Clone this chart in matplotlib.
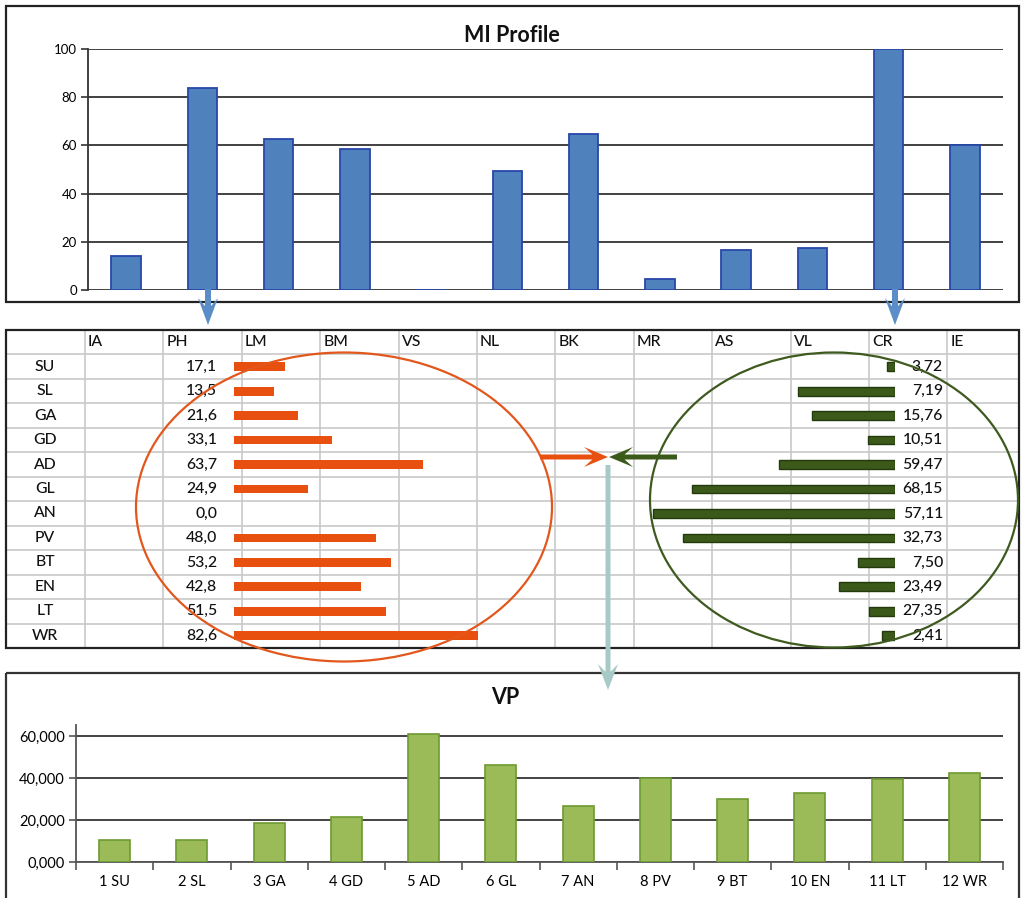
import matplotlib
matplotlib.use('Agg')
import matplotlib.pyplot as plt
import numpy as np
from matplotlib import font_manager as fm
from matplotlib.patches import Rectangle, Ellipse, FancyArrow
from matplotlib.ticker import FuncFormatter

# ---------------- data ----------------
mi_categories = ['IA', 'PH', 'LM', 'BM', 'VS', 'NL', 'BK', 'MR', 'AS', 'VL', 'CR', 'IE']
mi_values = [14.1, 84.0, 62.5, 58.5, 0.0, 49.5, 64.6, 4.4, 16.6, 17.3, 100.0, 60.0]

row_labels = ['SU', 'SL', 'GA', 'GD', 'AD', 'GL', 'AN', 'PV', 'BT', 'EN', 'LT', 'WR']
ph_values = [17.1, 13.5, 21.6, 33.1, 63.7, 24.9, 0.0, 48.0, 53.2, 42.8, 51.5, 82.6]
cr_bar_values = [2.8, 32.7, 28.1, 9.0, 39.1, 68.5, 81.7, 71.5, 12.6, 18.9, 8.7, 4.3]
cr_labels = ['3,72', '7,19', '15,76', '10,51', '59,47', '68,15',
             '57,11', '32,73', '7,50', '23,49', '27,35', '2,41']

vp_categories = ['1 SU', '2 SL', '3 GA', '4 GD', '5 AD', '6 GL',
                 '7 AN', '8 PV', '9 BT', '10 EN', '11 LT', '12 WR']
vp_values = [10500, 10500, 18500, 21300, 61000, 46300,
             26700, 40000, 30000, 33100, 39600, 42300]

# ---------------- fonts ----------------
names = {f.name for f in fm.fontManager.ttflist}
main_font = 'Lato' if 'Lato' in names else 'DejaVu Sans'
plt.rcParams['font.family'] = [main_font, 'DejaVu Sans']

W, H = 1021, 898
fig = plt.figure(figsize=(W / 100, H / 100), dpi=100)
fig.patch.set_facecolor('white')


def px_axes(x0, y0, x1, y1, **kw):
    return fig.add_axes([x0 / W, 1 - y1 / H, (x1 - x0) / W, (y1 - y0) / H], **kw)


# ---------------- top: MI Profile ----------------
ax1 = px_axes(88, 49, 1003, 290)
x = np.arange(len(mi_categories))
ax1.bar(x, mi_values, width=0.39, color='#4F81BD', edgecolor='#2747A8', linewidth=1.3, zorder=3)
ax1.set_xlim(-0.5, len(mi_categories) - 0.5)
ax1.set_ylim(0, 100)
ax1.set_yticks(range(0, 101, 20))
ax1.set_xticks([])
ax1.set_axisbelow(True)
ax1.yaxis.grid(True, color='#333333', linewidth=1.3)
for s in ['top', 'right', 'bottom']:
    ax1.spines[s].set_visible(False)
ax1.spines['left'].set_color('#333333')
ax1.spines['left'].set_linewidth(1.3)
ax1.tick_params(axis='y', length=5, width=1.2, color='#333333', labelsize=9.5, pad=3)
fig.text(512 / W, 1 - 35 / H, 'MI Profile', ha='center', va='center',
         fontsize=15.5, fontweight='bold', color='#111111')

# ---------------- middle: table ----------------
T_TOP, T_BOT, T_L, T_R = 330, 648, 6, 1019
n_rows = len(row_labels) + 1
row_h = (T_BOT - T_TOP) / n_rows
col_w = 78.4
col_edges = [85 + col_w * i for i in range(len(mi_categories))]

axt = px_axes(T_L, T_TOP, T_R, T_BOT)
axt.set_xlim(T_L, T_R)
axt.set_ylim(T_BOT, T_TOP)
axt.axis('off')
for ce in col_edges:
    axt.plot([ce, ce], [T_TOP, T_BOT], color='#C8C8C8', lw=1.2, zorder=1)
for j in range(1, n_rows):
    yy = T_TOP + row_h * j
    axt.plot([T_L, T_R], [yy, yy], color='#C8C8C8', lw=1.2, zorder=1)

tkw = dict(fontsize=11.3, fontweight='medium', color='#111111')
for i, c in enumerate(mi_categories):
    axt.text(col_edges[i] + 3, T_TOP + row_h * 0.5, c, ha='left', va='center', **tkw)
for j, lab in enumerate(row_labels):
    yc = T_TOP + row_h * (j + 1.5)
    axt.text(45, yc, lab, ha='center', va='center', **tkw)
    axt.text(217, yc, f'{ph_values[j]:.1f}'.replace('.', ','), ha='right', va='center', **tkw)
    axt.text(943, yc, cr_labels[j], ha='right', va='center', **tkw)

PX_PER_UNIT = 2.96
rows = np.arange(len(row_labels))
axo = px_axes(234, T_TOP, 560, T_BOT)
axo.patch.set_alpha(0)
axo.barh(rows, ph_values, height=0.36, color='#E8500F', linewidth=0)
axo.set_xlim(0, (560 - 234) / PX_PER_UNIT)
axo.set_ylim(len(row_labels) - 0.5, -1.5)
axo.axis('off')

axg = px_axes(640, T_TOP, 895, T_BOT)
axg.patch.set_alpha(0)
axg.barh(rows, cr_bar_values, height=0.36, color='#3B5A1A', edgecolor='#243A0C', linewidth=1.0)
axg.set_xlim((895 - 640) / PX_PER_UNIT, 0)
axg.set_ylim(len(row_labels) - 0.5, -1.5)
axg.axis('off')

# ---------------- bottom: VP ----------------
ax3 = px_axes(76, 725, 1003, 862)
xv = np.arange(len(vp_categories))
ax3.bar(xv, vp_values, width=0.40, color='#9BBB59', edgecolor='#6E9A32', linewidth=1.2, zorder=3)
ax3.set_xlim(-0.5, len(vp_categories) - 0.5)
ax3.set_ylim(0, 65400)
ax3.set_yticks([0, 20000, 40000, 60000])
ax3.yaxis.set_major_formatter(FuncFormatter(lambda v, p: f'{v / 1000:.3f}'.replace('.', ',')))
ax3.set_axisbelow(True)
ax3.yaxis.grid(True, color='#222222', linewidth=1.2)
for s in ['top', 'right']:
    ax3.spines[s].set_visible(False)
for s in ['left', 'bottom']:
    ax3.spines[s].set_color('#555555')
    ax3.spines[s].set_linewidth(1.3)
ax3.set_xticks(xv)
ax3.set_xticklabels(vp_categories)
ax3.set_xticks(np.arange(-0.5, len(vp_categories)), minor=True)
ax3.tick_params(axis='x', which='major', length=0, labelsize=10.5, pad=9)
ax3.tick_params(axis='x', which='minor', length=6, width=1.2, color='#555555')
ax3.tick_params(axis='y', length=5, width=1.2, color='#555555', labelsize=10.5, pad=3)
fig.text(505 / W, 1 - 697 / H, 'VP', ha='center', va='center',
         fontsize=15.5, fontweight='bold', color='#111111')

# ---------------- overlay: frames, ellipses, arrows ----------------
ov = fig.add_axes([0, 0, 1, 1], zorder=10)
ov.set_xlim(0, W)
ov.set_ylim(H, 0)
ov.axis('off')
ov.patch.set_alpha(0)

ov.add_patch(Rectangle((6, 6), 1013, 296, fill=False, edgecolor='#222222', lw=1.6))
ov.add_patch(Rectangle((T_L, T_TOP), T_R - T_L, T_BOT - T_TOP, fill=False, edgecolor='#222222', lw=1.6))
ov.add_patch(Rectangle((6, 673), 1013, 260, fill=False, edgecolor='#333333', lw=1.6, clip_on=False))

ov.add_patch(Ellipse((344, 507), 416, 309, fill=False, edgecolor='#E2571C', lw=1.6))
ov.add_patch(Ellipse((834, 500), 368, 295, fill=False, edgecolor='#3E5A1E', lw=1.6))

blue = '#5B8DC9'
for xa in (208, 895):
    ov.add_patch(FancyArrow(xa, 289, 0, 36, width=6, head_width=20, head_length=27,
                            length_includes_head=True, overhang=0.3, color=blue, lw=0))
ov.add_patch(FancyArrow(540, 457, 68, 0, width=5, head_width=20, head_length=24,
                        length_includes_head=True, overhang=0.35, color='#E8500F', lw=0))
ov.add_patch(FancyArrow(677, 457, -68, 0, width=5, head_width=20, head_length=24,
                        length_includes_head=True, overhang=0.35, color='#3B5A1A', lw=0))
ov.add_patch(FancyArrow(608, 465, 0, 225, width=5, head_width=20, head_length=26,
                        length_includes_head=True, overhang=0.3, color='#A8CAC6', lw=0))

fig.savefig('out.png', dpi=100, facecolor='white')
